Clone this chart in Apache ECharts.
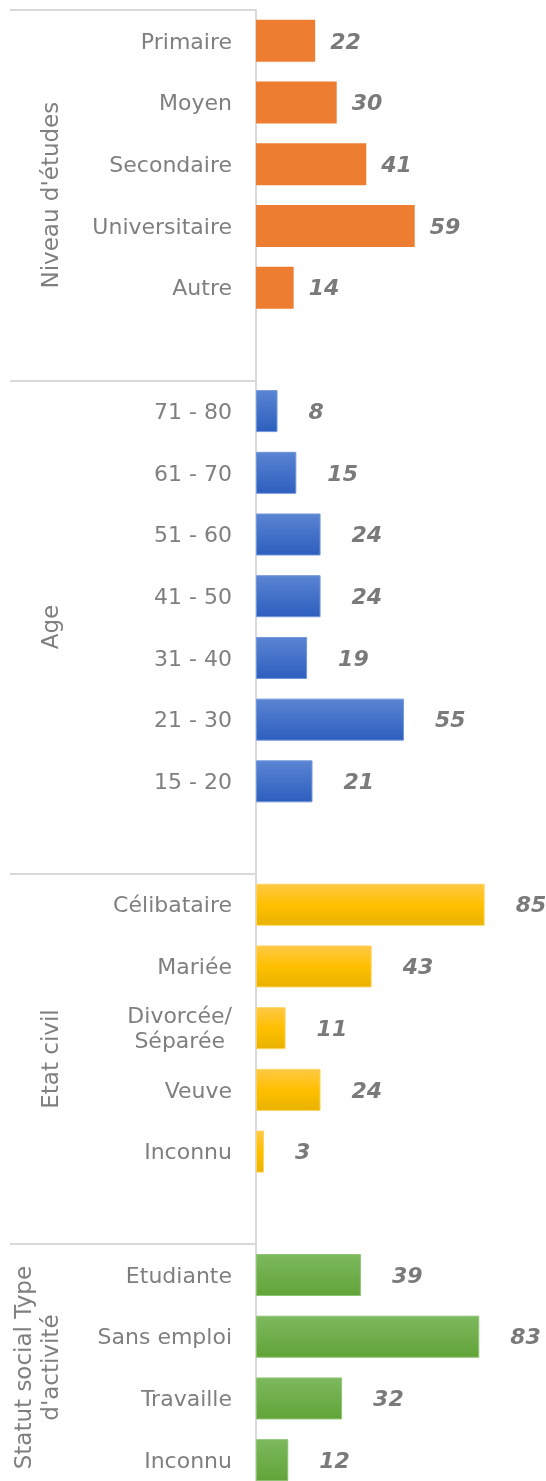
<!DOCTYPE html>
<html>
<head>
<meta charset="utf-8">
<script src="https://cdn.jsdelivr.net/npm/echarts@6/dist/echarts.min.js"></script>
<style>
  html, body { margin: 0; padding: 0; background: #fff; }
  #main { width: 546px; height: 1481px; }
</style>
</head>
<body>
<div id="main"></div>
<script>
// data
var groupNames = ["Niveau d'études", 'Age', 'Etat civil', "Statut social Type\nd'activité"];

var eduCats = ['Primaire', 'Moyen', 'Secondaire', 'Universitaire', 'Autre'];
var eduVals = [22, 30, 41, 59, 14];

var ageCats = ['71 - 80', '61 - 70', '51 - 60', '41 - 50', '31 - 40', '21 - 30', '15 - 20'];
var ageVals = [8, 15, 24, 24, 19, 55, 21];

var civilCats = ['Célibataire', 'Mariée', 'Divorcée/\nSéparée', 'Veuve', 'Inconnu'];
var civilVals = [85, 43, 11, 24, 3];

var statutCats = ['Etudiante', 'Sans emploi', 'Travaille', 'Inconnu'];
var statutVals = [39, 83, 32, 12];

var groupCats = [eduCats, ageCats, civilCats, statutCats];
var groupVals = [eduVals, ageVals, civilVals, statutVals];

// styling per group
var fills = [
  '#ed7d31',
  new echarts.graphic.LinearGradient(0, 0, 0, 1, [
    { offset: 0, color: '#5b85d3' }, { offset: 1, color: '#2c5ebe' }]),
  new echarts.graphic.LinearGradient(0, 0, 0, 1, [
    { offset: 0, color: '#ffc846' }, { offset: 0.5, color: '#ffc000' }, { offset: 1, color: '#e8b200' }]),
  new echarts.graphic.LinearGradient(0, 0, 0, 1, [
    { offset: 0, color: '#7db95e' }, { offset: 1, color: '#61a338' }])
];
var borders = ['#ed7d31', '#7196db', '#ffd45e', '#8dc470'];
var labelGap = [15, 31, 31, 31];

// build the flat category list (blank row after each group except the last)
var categories = [];
var starts = [];
var centers = [];
groupCats.forEach(function (cats, g) {
  var start = categories.length;
  starts.push(start);
  cats.forEach(function (c) { categories.push(c); });
  if (g < groupCats.length - 1) categories.push('');
  centers.push((start + categories.length) / 2);
});
starts.push(categories.length);

var groupAxisData = [];
for (var i = 0; i <= categories.length; i++) {
  var k = centers.indexOf(i);
  groupAxisData.push(k >= 0 ? groupNames[k] : '');
}

var series = groupVals.map(function (vals, g) {
  var data = categories.map(function () { return '-'; });
  vals.forEach(function (v, j) { data[starts[g] + j] = v; });
  return {
    type: 'bar',
    data: data,
    barWidth: 42,
    barGap: '-100%',
    itemStyle: {
      color: fills[g],
      borderColor: borders[g],
      borderWidth: g === 0 ? 0 : 1
    },
    label: {
      show: true,
      position: 'right',
      distance: labelGap[g],
      offset: [0, 2],
      color: '#7a7a7a',
      fontFamily: 'DejaVu Sans',
      fontSize: 22,
      fontWeight: 'bold',
      fontStyle: 'italic'
    }
  };
});

var catFont = { color: '#7f7f7f', fontFamily: 'DejaVu Sans', fontSize: 22, lineHeight: 25 };

var myChart = echarts.init(document.getElementById('main'));
myChart.setOption({
  animation: false,
  backgroundColor: '#fff',
  grid: {
    left: 256,
    top: 10,
    width: 269,
    height: 1481,
    containLabel: false,
    outerBoundsMode: 'none'
  },
  xAxis: {
    type: 'value',
    min: 0,
    max: 100,
    show: false
  },
  yAxis: [{
    type: 'category',
    data: categories,
    inverse: true,
    axisLine: { show: true, lineStyle: { color: '#d9d9d9', width: 2 } },
    axisTick: { show: false },
    splitLine: { show: false },
    axisLabel: {
      interval: 0,
      margin: 24,
      padding: [4, 0, 0, 0],
      color: catFont.color,
      fontFamily: catFont.fontFamily,
      fontSize: catFont.fontSize,
      lineHeight: catFont.lineHeight,
      formatter: function (v) {
        if (v.indexOf('\n') < 0) return v;
        return v.split('\n').map(function (s) { return '{c|' + s + '}'; }).join('\n');
      },
      rich: {
        c: Object.assign({ align: 'center' }, catFont)
      }
    }
  }, {
    type: 'category',
    data: groupAxisData,
    boundaryGap: false,
    inverse: true,
    position: 'left',
    axisLine: { show: false },
    axisTick: {
      show: true,
      length: 246,
      interval: function (idx) { return starts.indexOf(idx) >= 0; },
      lineStyle: { color: '#d9d9d9', width: 2 }
    },
    splitLine: { show: false },
    axisLabel: {
      interval: 0,
      rotate: 90,
      margin: 190,
      color: '#7f7f7f',
      fontFamily: 'DejaVu Sans',
      fontSize: 23,
      lineHeight: 27
    }
  }],
  series: series
});
</script>
</body>
</html>
